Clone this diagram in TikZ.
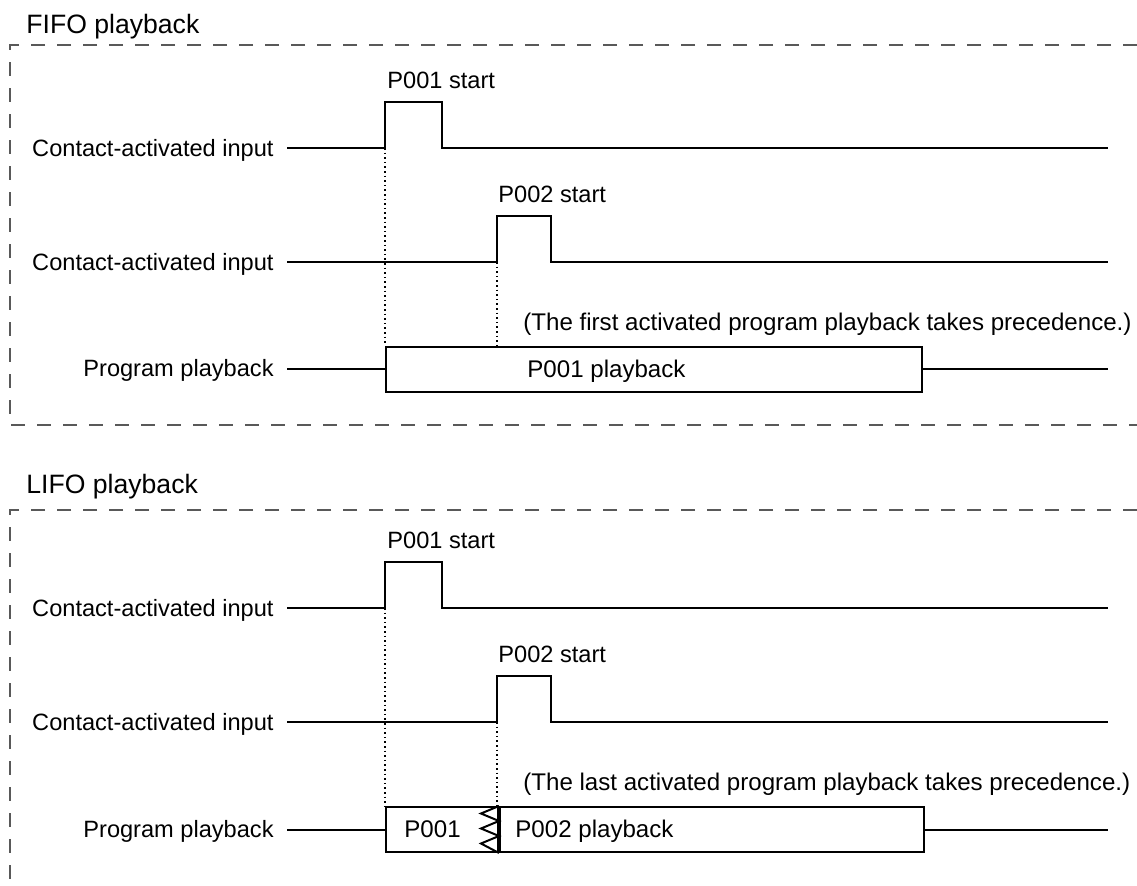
\documentclass[tikz,border=0pt]{standalone}
\usepackage{fontspec}
\setmainfont{Liberation Sans}
\usetikzlibrary{positioning}

\begin{document}
\begin{tikzpicture}[x=0.5pt,y=-0.5pt,
  lbl/.style={font=\fontsize{11.8}{14}\selectfont,inner sep=0pt},
  note/.style={lbl,font=\fontsize{12.05}{14}\selectfont},
  ttl/.style={lbl,font=\fontsize{13.3}{16}\selectfont},
  sig/.style={line width=1pt,line join=miter},
  frame/.style={dash pattern=on 7pt off 6pt,draw=black!65,line width=0.75pt},
  guide/.style={dash pattern=on 0.8pt off 1.5pt,line width=0.8pt},
  playbox/.style={draw,sig,inner sep=0pt,minimum height=22.5pt,anchor=west}]
  \useasboundingbox (0,0) rectangle (1137,885);
  % FIFO
  \node[ttl,anchor=base west] (fifo) at (26,33) {FIFO playback};
  \draw[frame] (1137,45) -- (10,45) -- (10,425) -- (1137,425);
  \node[lbl,anchor=base east] (fin1) at (274,156) {Contact-activated input};
  \node[lbl,anchor=base east] (fin2) at (274,270) {Contact-activated input};
  \node[lbl,anchor=base east] (fprog) at (274,376) {Program playback};
  \coordinate (fr1) at (385,148);
  \coordinate (fr2) at (497,262);
  \draw[sig] (287,148) -- (fr1) |- (442,102) |- (1108,148);
  \draw[sig] (287,262) -- (fr2) |- (551,216) |- (1108,262);
  \node[playbox,minimum width=268pt] (fbox) at (385,369) {};
  \draw[sig] (287,369) -- (fbox.west);
  \draw[sig] (fbox.east) -- (1108,369);
  \draw[guide] (fr1) -- (fr1 |- fbox.north);
  \draw[guide] (fr2) -- (fr2 |- fbox.north);
  \node[lbl,anchor=base west] (fst1) at (387,88) {P001 start};
  \node[lbl,anchor=base west] (fst2) at (498,202) {P002 start};
  \node[note,anchor=base west] (fnote) at (523,330) {(The first activated program playback takes precedence.)};
  \node[note,anchor=base west] (fplay) at (527,377) {P001 playback};
  % LIFO
  \node[ttl,anchor=base west] (lifo) at (26,493) {LIFO playback};
  \draw[frame] (1137,510) -- (10,510) -- (10,885);
  \node[lbl,anchor=base east] (lin1) at (274,616) {Contact-activated input};
  \node[lbl,anchor=base east] (lin2) at (274,730) {Contact-activated input};
  \node[lbl,anchor=base east] (lprog) at (274,837) {Program playback};
  \coordinate (lr1) at (385,608);
  \coordinate (lr2) at (497,722);
  \draw[sig] (287,608) -- (lr1) |- (442,562) |- (1108,608);
  \draw[sig] (287,722) -- (lr2) |- (551,676) |- (1108,722);
  \node[playbox,minimum width=56pt] (lbox1) at (385,829.5) {};
  \node[playbox,minimum width=212pt] (lbox2) at (lbox1.east) {};
  \draw[sig] (287,829.5) -- (lbox1.west);
  \draw[sig] (lbox2.east) -- (1108,829.5);
  \draw[sig] (lbox1.north east)
    -- ++(-18,7.5) -- ++(18,7.5) -- ++(-18,7.5) -- ++(18,7.5) -- ++(-18,7.5) -- (lbox1.south east);
  \draw[guide] (lr1) -- (lr1 |- lbox1.north);
  \draw[guide] (lr2) -- (lr2 |- lbox1.north);
  \node[lbl,anchor=base west] (lst1) at (387,548) {P001 start};
  \node[lbl,anchor=base west] (lst2) at (498,662) {P002 start};
  \node[note,anchor=base west] (lnote) at (523,790) {(The last activated program playback takes precedence.)};
  \node[note,anchor=base west] (lp1) at (404,837) {P001};
  \node[note,anchor=base west] (lplay) at (515,837) {P002 playback};
\end{tikzpicture}
\end{document}
